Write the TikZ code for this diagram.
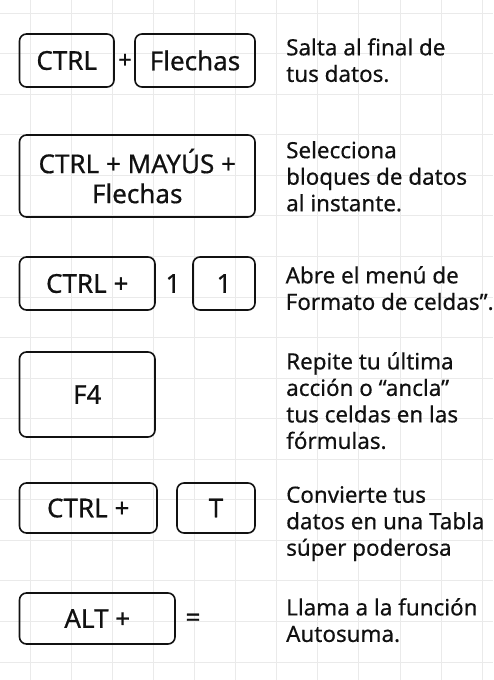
\documentclass[tikz,border=0pt]{standalone}
\usepackage{fontspec}
\setmainfont{Noto Sans}
\newfontfamily\keyfam{Noto Sans}[FakeBold=0.6]
\newfontfamily\descfam{Noto Sans}[FakeBold=0.4]
\usepackage{tikz}

\newcommand{\keyfont}{\keyfam\fontsize{26}{30}\selectfont}
\newcommand{\descfont}{\descfam\fontsize{22.4}{26.5}\selectfont}
\definecolor{gridgray}{HTML}{EAEAEA}
\definecolor{ink}{HTML}{111111}

\tikzset{
  keycap/.style={draw=ink, text=ink, rounded corners=7pt, line width=1.6pt,
    font=\keyfont, inner sep=0pt, align=center},
  joiner/.style={text=ink, inner sep=0pt},
  desc/.style={anchor=north west, align=left, font=\descfont, text=ink, inner sep=0pt}
}

\begin{document}
\begin{tikzpicture}[x=1pt, y=-1pt]
      \useasboundingbox (0,0) rectangle (493,680);
      \fill[white] (0,0) rectangle (493,680);
      % background grid
      \foreach \x in {0,...,11} {%
        \draw[gridgray, line width=0.8pt] (30+41.1*\x,0) -- (30+41.1*\x,680);
      }
      \foreach \y in {0,...,16} {%
        \draw[gridgray, line width=0.8pt] (0,13+40.56*\y) -- (493,13+40.56*\y);
      }
      % row 1
      \node[keycap, minimum width=94.5pt, minimum height=53pt] (ctrlA) at (66.75,60.5) {CTRL};
      \node[joiner, font=\keyfam\fontsize{24}{28}\selectfont] (plusA) at (125,61) {+};
      \node[keycap, minimum width=120pt, minimum height=53pt] (flechasA) at (195,60.5) {Flechas};
      \node[desc] (descA) at (286,38) {Salta al final de\\tus datos.};
      % row 2
      \node[keycap, minimum width=235.5pt, minimum height=82pt] (ctrlmayus) at (137.25,176) {CTRL + MAYÚS +\\Flechas};
      \node[desc] (descB) at (286,141) {Selecciona\\bloques de datos\\al instante.};
      % row 3
      \node[keycap, minimum width=135.5pt, minimum height=53pt] (ctrlB) at (87.25,283.5) {CTRL +};
      \node[joiner, font=\keyfont] (oneA) at (173,283.5) {1};
      \node[keycap, minimum width=62pt, minimum height=53pt] (oneB) at (224,283.5) {1};
      \node[desc] (descC) at (285.5,266) {Abre el menú de\\Formato de celdas”.};
      % row 4
      \node[keycap, minimum width=135.5pt, minimum height=85pt] (ffour) at (87.25,394.5) {F4};
      \node[desc] (descD) at (286,352) {Repite tu última\\acción o “ancla”\\tus celdas en las\\fórmulas.};
      % row 5
      \node[keycap, minimum width=137.5pt, minimum height=50pt] (ctrlC) at (88.25,508) {CTRL +};
      \node[keycap, minimum width=78pt, minimum height=50pt] (tkey) at (216,508) {T};
      \node[desc] (descE) at (286,486) {Convierte tus\\datos en una Tabla\\súper poderosa};
      % row 6
      \node[keycap, minimum width=155.5pt, minimum height=51pt] (altkey) at (97.25,618.5) {ALT +};
      \node[joiner, font=\keyfont] (equal) at (193,620) {=};
      \node[desc] (descF) at (286,598) {Llama a la función\\Autosuma.};
\end{tikzpicture}
\end{document}
